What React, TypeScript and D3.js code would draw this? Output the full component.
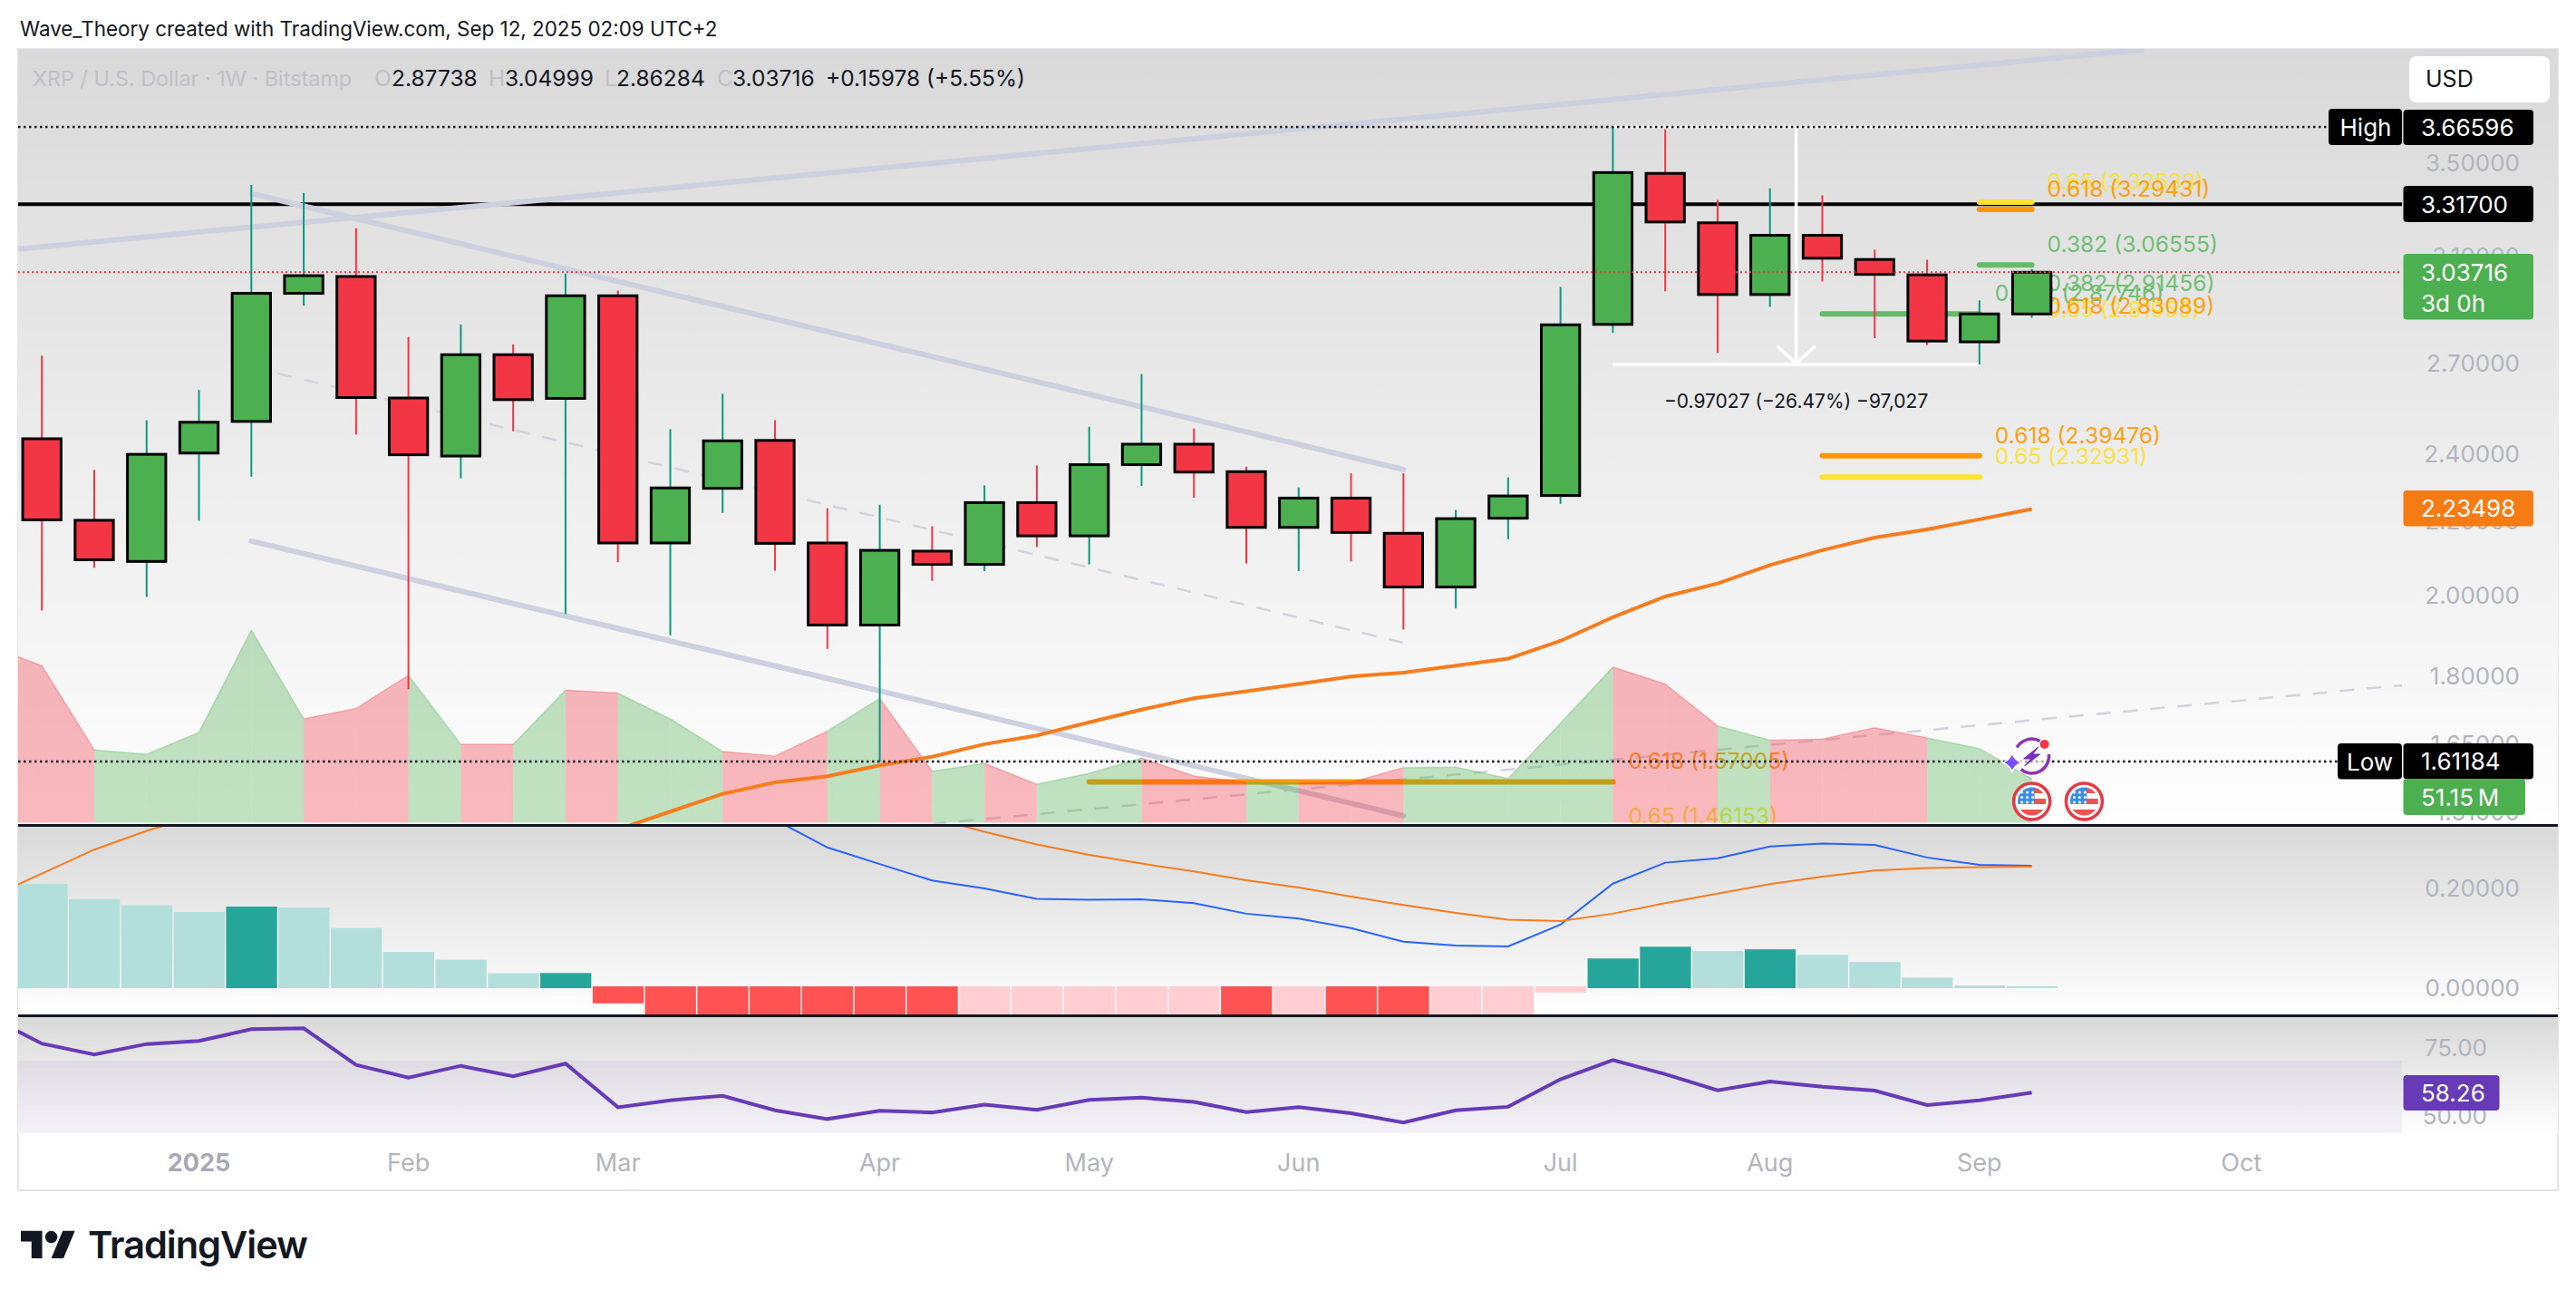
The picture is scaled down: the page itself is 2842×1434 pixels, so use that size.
import React from "react";
import * as d3 from "d3";

const FONT = "Inter, 'Noto Sans', sans-serif";

// weekly candles, XRP / USD
const opens = [2.4481, 2.2028, 2.0884, 2.4031, 2.5036, 2.9553, 3.0205, 2.5808, 2.3939, 2.7296, 2.5794, 2.946, 2.139, 2.2958, 2.4428, 2.139, 1.9234, 2.1165, 2.0805, 2.2538, 2.1588, 2.3673, 2.4309, 2.346, 2.1826, 2.2671, 2.166, 2.0204, 2.2087, 2.2746, 2.8388, 3.4519, 3.238, 2.9507, 3.186, 3.0878, 3.027, 2.7753, 2.87738];
const closes = [2.204, 2.0929, 2.3992, 2.501, 2.9553, 3.0238, 2.5822, 2.3979, 2.7296, 2.5752, 2.946, 2.139, 2.2971, 2.4415, 2.1379, 1.9234, 2.1187, 2.0805, 2.2538, 2.1588, 2.3673, 2.4309, 2.3447, 2.1826, 2.2671, 2.1683, 2.0204, 2.2075, 2.2733, 2.8372, 3.4556, 3.2414, 2.9507, 3.186, 3.0927, 3.0287, 2.7782, 2.8776, 3.03716];
const highs = [2.7267, 2.351, 2.5076, 2.6074, 3.4008, 3.3661, 3.2155, 2.793, 2.8388, 2.7665, 3.032, 2.9664, 2.4785, 2.5948, 2.5076, 2.2372, 2.2479, 2.1861, 2.3046, 2.3648, 2.4864, 2.6619, 2.4811, 2.3611, 2.2984, 2.341, 2.341, 2.2324, 2.3285, 2.9795, 3.66596, 3.6546, 3.335, 3.3862, 3.3551, 3.1272, 3.0862, 2.9289, 3.04999];
const lows = [1.9596, 2.0715, 1.9948, 2.2016, 2.331, 2.9087, 2.4613, 1.7698, 2.326, 2.4719, 1.9511, 2.0862, 1.8982, 2.2241, 2.0636, 1.8649, 1.61184, 2.0366, 2.0625, 2.1277, 2.0805, 2.3034, 2.2683, 2.0827, 2.0625, 2.0884, 1.9124, 1.966, 2.1494, 2.2502, 2.8077, 2.9631, 2.7355, 2.9041, 3.0008, 2.7885, 2.7635, 2.69569, 2.86284];

// series that start one week before the first full candle (index -1)
const volumes = [206, 182.9, 84.8, 79.8, 105.2, 224.5, 120.9, 133.1, 171.7, 91.4, 91.4, 154.4, 150.9, 120.9, 82.8, 77.7, 106.7, 144.8, 59.9, 69.1, 44.7, 57.4, 75.2, 54.3, 47, 46, 47, 64.2, 64.6, 51.4, 115.8, 181.4, 161.5, 112.8, 96, 97.5, 110.7, 98.6, 86.4, 51.15];
const rsi = [86.2, 76.28, 72.27, 76.12, 77.24, 81.57, 81.89, 68.43, 63.78, 68.11, 64.26, 68.91, 52.88, 55.45, 57.05, 51.76, 48.55, 51.6, 50.96, 53.84, 51.92, 55.61, 56.41, 54.8, 51.12, 52.88, 50.64, 47.27, 51.76, 53.04, 63.14, 70.19, 65.06, 59.13, 62.34, 60.41, 58.97, 53.68, 55.45, 58.26];
const macdSignal = [0.18, 0.2278, 0.276, 0.3136, 0.345, 0.375, 0.405, 0.43, 0.45, 0.465, 0.47, 0.47, 0.46, 0.45, 0.435, 0.415, 0.39, 0.365, 0.34, 0.3118, 0.2865, 0.2655, 0.248, 0.2322, 0.2147, 0.2, 0.1818, 0.1649, 0.1491, 0.1353, 0.1327, 0.1475, 0.1685, 0.1876, 0.2069, 0.2218, 0.234, 0.2393, 0.2411, 0.242];

// series that start at the first candle
const macdLine = [0.435, 0.4526, 0.478, 0.496, 0.537, 0.565, 0.549, 0.521, 0.52, 0.498, 0.498, 0.428, 0.39, 0.36, 0.336, 0.2804, 0.247, 0.214, 0.1982, 0.1773, 0.1755, 0.1764, 0.1685, 0.1475, 0.1378, 0.1185, 0.0915, 0.0836, 0.0818, 0.1256, 0.2078, 0.2498, 0.2585, 0.2822, 0.2882, 0.2856, 0.2602, 0.2455, 0.2436];
const macdHist = [0.2072, 0.1766, 0.1643, 0.1512, 0.1617, 0.16, 0.1189, 0.0708, 0.0551, 0.028, 0.0285, -0.0323, -0.06, -0.075, -0.09, -0.11, -0.118, -0.126, -0.114, -0.109, -0.09, -0.0716, -0.0637, -0.0672, -0.0622, -0.0633, -0.0734, -0.0655, -0.055, -0.0105, 0.0577, 0.0813, 0.0725, 0.076, 0.0647, 0.0507, 0.0192, 0.0035, 0.002];

// moving average, first value at candle 11
const maStart = 11;
const maValues = [1.4762, 1.5106, 1.5459, 1.5688, 1.5814, 1.6037, 1.6219, 1.6484, 1.6672, 1.6959, 1.7238, 1.7494, 1.7652, 1.7822, 1.7995, 1.8085, 1.825, 1.8415, 1.8843, 1.9428, 1.9959, 2.0297, 2.0784, 2.1191, 2.1541, 2.1771, 2.2054, 2.23498];

const priceTicks = [3.5, 3.1, 2.7, 2.4, 2.2, 2.0, 1.8, 1.65, 1.51];
const macdTicks = [0.2, 0];
const rsiTicks = [75, 50];
const timeTicks = [
  { i: 3, label: "2025", bold: true },
  { i: 7, label: "Feb" },
  { i: 11, label: "Mar" },
  { i: 16, label: "Apr" },
  { i: 20, label: "May" },
  { i: 24, label: "Jun" },
  { i: 29, label: "Jul" },
  { i: 33, label: "Aug" },
  { i: 37, label: "Sep" },
  { i: 42, label: "Oct" },
];

const highPrice = 3.66596;
const lowPrice = 1.61184;
const keyPrice = 3.317;
const lastPrice = 3.03716;
const measureLow = 2.69569;

const YELLOW = "#fbe336";
const ORANGE = "#ff9800";
const GREEN_FIB = "#66bb6a";

const fibBars = [
  { ratio: "0.65", price: 3.32533, color: YELLOW, from: 37, to: 38 },
  { ratio: "0.618", price: 3.29431, color: ORANGE, from: 37, to: 38 },
  { ratio: "0.382", price: 3.06555, color: GREEN_FIB, from: 37, to: 38 },
  { ratio: "0.382", price: 2.87746, color: GREEN_FIB, from: 34, to: 37 },
  { ratio: "0.65", price: 2.32931, color: YELLOW, from: 34, to: 37 },
  { ratio: "0.618", price: 2.39476, color: ORANGE, from: 34, to: 37 },
  { ratio: "0.65", price: 1.46153, color: YELLOW, from: 20, to: 30 },
  { ratio: "0.618", price: 1.57005, color: ORANGE, from: 20, to: 30 },
];
const fibLabelsOnly = [
  { ratio: "0.382", price: 2.91456, color: GREEN_FIB, to: 38 },
  { ratio: "0.65", price: 2.81955, color: YELLOW, to: 38 },
  { ratio: "0.618", price: 2.83089, color: ORANGE, to: 38 },
];

const trendLines = [
  { a: [-0.45, 3.13], b: [40.1, 4.0506] },
  { a: [4, 3.363], b: [26, 2.3524] },
  { a: [4, 2.1441], b: [26, 1.5025] },
];
const dashedLines = [
  { a: [4, 2.6861], b: [26, 1.88] },
  { a: [17, 1.4866], b: [45.07, 1.7791] },
];

const LEFT = 20;
const RIGHT = 2822;
const PLOT_RIGHT = 2650;

const x = d3.scaleLinear().domain([0, 38]).range([46.2, 2241.6]);
const y = d3.scaleLog().domain([lowPrice, highPrice]).range([840, 140]);
const volY = d3.scaleLinear().domain([0, 51.15]).range([907.4, 859]);
const macdY = d3.scaleLinear().domain([0, 0.2]).range([1089, 979]);
const rsiY = d3.scaleLinear().domain([75, 50]).range([1155, 1230]);

const priceLine = d3
  .line<number>()
  .x((_, i) => x(i + maStart))
  .y((d) => y(d));
const fromPrev = (scale: (v: number) => number) =>
  d3
    .line<number>()
    .x((_, i) => x(i - 1))
    .y((d) => scale(d));
const fromFirst = (scale: (v: number) => number) =>
  d3
    .line<number>()
    .x((_, i) => x(i))
    .y((d) => scale(d));

const volArea = d3
  .area<{ i: number; v: number }>()
  .x((d) => x(d.i))
  .y0(volY(0))
  .y1((d) => volY(d.v));
const volTop = d3
  .line<{ i: number; v: number }>()
  .x((d) => x(d.i))
  .y((d) => volY(d.v));

const isUp = (i: number) => closes[i] >= opens[i];

const axisText = {
  fontFamily: FONT,
  fontSize: 26,
  fill: "#b2b5be",
  dominantBaseline: "central" as const,
};

const PriceTag = ({ y0, h, w, fill, text, sub }: any) => (
  <g>
    <rect x={2651.5} y={y0} width={w} height={h} rx={4} fill={fill} />
    <text x={2671} y={sub ? y0 + 20 : y0 + h / 2} fontFamily={FONT} fontSize={26} fill="#fff" dominantBaseline="central">
      {text}
    </text>
    {sub && (
      <text x={2671} y={y0 + 54} fontFamily={FONT} fontSize={26} fill="#fff" dominantBaseline="central">
        {sub}
      </text>
    )}
  </g>
);

const UsFlag = ({ cx, cy, id }: any) => (
  <g transform={`translate(${cx},${cy})`}>
    <circle r={20} fill="#fff" stroke="#e63946" strokeWidth={3.5} />
    <clipPath id={id}>
      <circle r={15.5} />
    </clipPath>
    <g clipPath={`url(#${id})`}>
      <rect x={-16} y={-16} width={32} height={32} fill="#fff" />
      <rect x={2} y={-16} width={14} height={7} fill="#ef5350" />
      <rect x={2} y={-3} width={14} height={6} fill="#ef5350" />
      <rect x={-16} y={9} width={32} height={7} fill="#ef5350" />
      <rect x={-16} y={-16} width={19} height={19} fill="#3b8ee8" />
      {d3.range(3).map((r) =>
        d3.range(3).map((c) => <circle key={`${r}-${c}`} cx={-11 + c * 6} cy={-10 + r * 5.5} r={1.5} fill="#fff" />)
      )}
    </g>
  </g>
);

const App: React.FC = () => {
  const step = x(1) - x(0);
  const candleW = 42.3;
  const lastI = opens.length - 1;

  return (
    <svg width={2842} height={1434} style={{ position: "absolute", left: 0, top: 0, background: "#fff" }}>
      <defs>
        <linearGradient id="paneBg" x1="0" y1="0" x2="0" y2="1">
          <stop offset="0" stopColor="#d9d9d9" />
          <stop offset="1" stopColor="#fefefe" />
        </linearGradient>
        <clipPath id="mainClip">
          <rect x={LEFT} y={54} width={RIGHT - LEFT} height={855} />
        </clipPath>
        <clipPath id="macdClip">
          <rect x={LEFT} y={912} width={RIGHT - LEFT} height={207} />
        </clipPath>
        <clipPath id="rsiClip">
          <rect x={LEFT} y={1122} width={RIGHT - LEFT} height={128} />
        </clipPath>
      </defs>

      <text x={22} y={31} fontFamily={FONT} fontSize={22.4} fill="#131722" dominantBaseline="central">
        Wave_Theory created with TradingView.com, Sep 12, 2025 02:09 UTC+2
      </text>

      {/* panes */}
      <rect x={LEFT} y={54} width={RIGHT - LEFT} height={1259} fill="#fff" stroke="#e4e6ea" strokeWidth={2} />
      <rect x={LEFT} y={54} width={RIGHT - LEFT} height={855} fill="url(#paneBg)" />
      <rect x={LEFT} y={912} width={RIGHT - LEFT} height={207} fill="url(#paneBg)" />
      <rect x={LEFT} y={1122} width={RIGHT - LEFT} height={128} fill="url(#paneBg)" />

      {/* price axis */}
      {priceTicks.map((t) => (
        <text key={t} x={2780} y={y(t)} textAnchor="end" {...axisText}>
          {t.toFixed(5)}
        </text>
      ))}
      {macdTicks.map((t) => (
        <text key={t} x={2780} y={macdY(t)} textAnchor="end" {...axisText}>
          {t.toFixed(5)}
        </text>
      ))}
      {rsiTicks.map((t) => (
        <text key={t} x={2744} y={rsiY(t)} textAnchor="end" {...axisText}>
          {t.toFixed(2)}
        </text>
      ))}

      <g clipPath="url(#mainClip)">
        <line x1={LEFT} x2={PLOT_RIGHT} y1={y(keyPrice)} y2={y(keyPrice)} stroke="#000" strokeWidth={4} />

        {trendLines.map((l, i) => (
          <line key={i} x1={x(l.a[0])} y1={y(l.a[1])} x2={x(l.b[0])} y2={y(l.b[1])} stroke="#cdd0de" strokeWidth={6} strokeLinecap="round" />
        ))}
        {dashedLines.map((l, i) => (
          <line key={i} x1={x(l.a[0])} y1={y(l.a[1])} x2={x(l.b[0])} y2={y(l.b[1])} stroke="#d1d4dc" strokeWidth={2.5} strokeDasharray="16 14" />
        ))}

        {fibBars.map((f, i) => (
          <line key={i} x1={x(f.from)} x2={x(f.to)} y1={y(f.price)} y2={y(f.price)} stroke={f.color} strokeWidth={6} strokeLinecap="round" />
        ))}
        {[...fibBars, ...fibLabelsOnly].map((f, i) => (
          <text key={i} x={x(f.to) + 17} y={y(f.price) - 23} fontFamily={FONT} fontSize={24.6} fill={f.color} opacity={0.9} dominantBaseline="central">
            {`${f.ratio} (${f.price.toFixed(5)})`}
          </text>
        ))}

        {/* volume, one segment per candle so that the colour can change */}
        {d3.range(-1, lastI).map((i) => {
          const seg = [
            { i, v: volumes[i + 1] },
            { i: i + 1, v: volumes[i + 2] },
          ];
          const color = isUp(i + 1) ? "#4caf50" : "#f23645";
          return (
            <g key={i}>
              <path d={volArea(seg) || ""} fill={color} opacity={0.35} />
              <path d={volTop(seg) || ""} fill="none" stroke={color} strokeWidth={1.5} opacity={0.3} />
            </g>
          );
        })}

        <path d={priceLine(maValues) || ""} fill="none" stroke="#f57c1f" strokeWidth={4} />

        {/* measure tool */}
        <line x1={x(30)} x2={x(37)} y1={y(highPrice)} y2={y(highPrice)} stroke="#fff" strokeWidth={3} />
        <line x1={x(30)} x2={x(37)} y1={y(measureLow)} y2={y(measureLow)} stroke="#fff" strokeWidth={3.5} />
        <line x1={x(33.5)} x2={x(33.5)} y1={y(highPrice)} y2={y(measureLow)} stroke="#fff" strokeWidth={3.5} />
        <path
          d={`M${x(33.5) - 21},${y(measureLow) - 20}L${x(33.5)},${y(measureLow) - 1}L${x(33.5) + 21},${y(measureLow) - 20}`}
          fill="none"
          stroke="#fff"
          strokeWidth={3.5}
        />
        <text x={x(33.5)} y={442} textAnchor="middle" fontFamily={FONT} fontSize={21} fill="#131722" dominantBaseline="central">
          −0.97027 (−26.47%) −97,027
        </text>

        {/* candles */}
        {opens.map((o, i) => (
          <line key={i} x1={x(i)} x2={x(i)} y1={y(highs[i])} y2={y(lows[i])} stroke={isUp(i) ? "#089981" : "#f23645"} strokeWidth={2} />
        ))}
        {opens.map((o, i) => {
          const top = y(Math.max(o, closes[i]));
          const bottom = y(Math.min(o, closes[i]));
          return (
            <rect
              key={i}
              x={x(i) - candleW / 2}
              y={top}
              width={candleW}
              height={bottom - top}
              fill={isUp(i) ? "#4caf50" : "#f23645"}
              stroke="#000"
              strokeWidth={3}
            />
          );
        })}

        <line x1={LEFT} x2={2569} y1={y(highPrice)} y2={y(highPrice)} stroke="#131722" strokeWidth={2.5} strokeDasharray="2.5 3.5" />
        <line x1={LEFT} x2={2579} y1={y(lowPrice)} y2={y(lowPrice)} stroke="#131722" strokeWidth={2.5} strokeDasharray="2.5 3.5" />
        <line x1={LEFT} x2={PLOT_RIGHT} y1={y(lastPrice)} y2={y(lastPrice)} stroke="#f23645" strokeWidth={2} strokeDasharray="2 3" />
      </g>

      {/* lightning icon and events */}
      <g transform={`translate(${x(38)},834)`}>
        <circle r={22} fill="#fff" opacity={0.6} />
        <path d="M-16.5,-9.5A19,19 0 0 1 9,-16.5M18.9,-2A19,19 0 0 1 -12,14.7" fill="none" stroke="#8e35b5" strokeWidth={3.5} />
        <path d="M7,-10L-9,3L-1,3L-8,11L9,-2L1,-2Z" fill="#7b2fbf" stroke="#7b2fbf" strokeWidth={1} />
        <circle cx={14} cy={-13} r={5} fill="#f23645" />
        <path d="M-21.7,-2.7Q-18.7,4.3 -11.7,7.3Q-18.7,10.3 -21.7,17.3Q-24.7,10.3 -31.7,7.3Q-24.7,4.3 -21.7,-2.7Z" fill="#7c4dff" stroke="#fff" strokeWidth={1.5} />
      </g>
      <UsFlag cx={x(38)} cy={884} id="flagA" />
      <UsFlag cx={x(39)} cy={884} id="flagB" />

      {/* MACD */}
      <g clipPath="url(#macdClip)">
        {macdHist.map((v, i) => {
          const prev = i === 0 ? v + 1 : macdHist[i - 1];
          const rising = v > prev;
          const fill = v >= 0 ? (rising ? "#26a69a" : "#b2dfdb") : rising ? "#ffcdd2" : "#ff5252";
          const y0 = macdY(0) + (v >= 0 ? 1 : -1);
          const y1 = macdY(v);
          return <rect key={i} x={x(i) - step / 2 + 1} y={Math.min(y0, y1)} width={step - 1.5} height={Math.abs(y1 - y0)} fill={fill} />;
        })}
        <path d={fromFirst(macdY)(macdLine) || ""} fill="none" stroke="#2962ff" strokeWidth={2} />
        <path d={fromPrev(macdY)(macdSignal) || ""} fill="none" stroke="#f57c1f" strokeWidth={2} />
      </g>

      {/* RSI */}
      <g clipPath="url(#rsiClip)">
        <rect x={LEFT} y={rsiY(70)} width={PLOT_RIGHT - LEFT} height={rsiY(30) - rsiY(70)} fill="#7e57c2" opacity={0.08} />
        <path d={fromPrev(rsiY)(rsi) || ""} fill="none" stroke="#673ab7" strokeWidth={4} />
      </g>

      <line x1={LEFT} x2={RIGHT} y1={910.5} y2={910.5} stroke="#131722" strokeWidth={3} />
      <line x1={LEFT} x2={RIGHT} y1={1120.5} y2={1120.5} stroke="#131722" strokeWidth={3} />

      {/* time axis */}
      {timeTicks.map((t) => (
        <text
          key={t.label}
          x={x(t.i)}
          y={1282}
          textAnchor="middle"
          fontFamily={FONT}
          fontSize={27}
          fontWeight={t.bold ? 700 : 400}
          fill={t.bold ? "#a6a9b2" : "#b2b5be"}
          dominantBaseline="central"
        >
          {t.label}
        </text>
      ))}

      {/* legend */}
      <g fontFamily={FONT} fontSize={24.5} dominantBaseline="central">
        <text x={36} y={86} fontSize={23.4} fill="#bfc1c8">XRP / U.S. Dollar · 1W · Bitstamp</text>
        <text x={413} y={86} fill="#bfc1c8">O</text>
        <text x={432} y={86} fill="#131722">{opens[lastI].toFixed(5)}</text>
        <text x={539} y={86} fill="#bfc1c8">H</text>
        <text x={557} y={86} fill="#131722">{highs[lastI].toFixed(5)}</text>
        <text x={667} y={86} fill="#bfc1c8">L</text>
        <text x={680} y={86} fill="#131722">{lows[lastI].toFixed(5)}</text>
        <text x={791} y={86} fill="#bfc1c8">C</text>
        <text x={808} y={86} fill="#131722">{closes[lastI].toFixed(5)}</text>
        <text x={911} y={86} fill="#131722">+0.15978 (+5.55%)</text>
      </g>

      {/* USD button */}
      <rect x={2658} y={62} width={155} height={51} rx={8} fill="#fff" />
      <text x={2676} y={87} fontFamily={FONT} fontSize={25} fill="#131722" dominantBaseline="central">USD</text>

      {/* price tags */}
      <rect x={2569} y={120} width={81} height={40} rx={4} fill="#000" />
      <text x={2610} y={140} textAnchor="middle" fontFamily={FONT} fontSize={26} fill="#fff" dominantBaseline="central">High</text>
      <PriceTag y0={121} h={39} w={143.5} fill="#000" text={highPrice.toFixed(5)} />
      <PriceTag y0={205} h={40} w={143.5} fill="#000" text={keyPrice.toFixed(5)} />
      <PriceTag y0={280} h={72.5} w={143.5} fill="#4caf50" text={lastPrice.toFixed(5)} sub="3d 0h" />
      <PriceTag y0={541} h={39.5} w={143.5} fill="#f57c14" text={maValues[maValues.length - 1].toFixed(5)} />
      <rect x={2579} y={820} width={71} height={39.5} rx={4} fill="#000" />
      <text x={2614.5} y={840} textAnchor="middle" fontFamily={FONT} fontSize={26} fill="#fff" dominantBaseline="central">Low</text>
      <PriceTag y0={820} h={39.5} w={143.5} fill="#000" text={lowPrice.toFixed(5)} />
      <PriceTag y0={859} h={40} w={134.5} fill="#4caf50" text={`${volumes[volumes.length - 1]}\u2009M`} />
      <PriceTag y0={1186} h={39} w={106} fill="#673ab7" text={rsi[rsi.length - 1].toFixed(2)} />

      {/* logo */}
      <g transform="translate(23,1351) scale(1.68)" fill="#131722">
        <path d="M14 22H7V11H0V4h14v18zM28 22h-8l7.5-18h8L28 22z" />
        <circle cx={20} cy={8} r={4} />
      </g>
      <text x={97} y={1373} fontFamily={FONT} fontSize={41.5} fontWeight={600} letterSpacing={-1} fill="#131722" dominantBaseline="central">
        TradingView
      </text>
    </svg>
  );
};

export default App;
